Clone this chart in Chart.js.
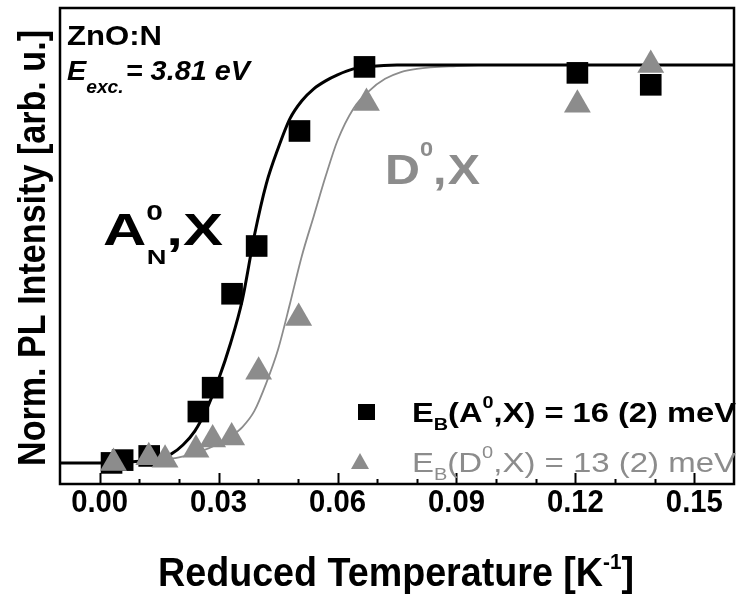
<!DOCTYPE html>
<html><head><meta charset="utf-8">
<script src="https://cdn.jsdelivr.net/npm/chart.js@4/dist/chart.umd.min.js"></script>
<style>html,body{margin:0;padding:0;background:#fff;overflow:hidden}</style>
</head><body>
<canvas id="c" width="737" height="596"></canvas>
<script>
// ---------- data ----------
const xMajorTicks = [0.00, 0.03, 0.06, 0.09, 0.12, 0.15];
const xTickLabels = ['0.00', '0.03', '0.06', '0.09', '0.12', '0.15'];
const xMinorTicks = [0.01, 0.02, 0.04, 0.05, 0.07, 0.08, 0.10, 0.11, 0.13, 0.14];

// A0,X (black squares)
const squaresX = [0.003, 0.0058, 0.0125, 0.0249, 0.0285, 0.0334, 0.0396, 0.0504, 0.0668, 0.1205, 0.139];
const squaresY = [0.0, 0.007, 0.0175, 0.129, 0.189, 0.425, 0.545, 0.834, 0.995, 0.98, 0.95];

// D0,X (grey triangles)
const trianglesX = [0.0035, 0.0124, 0.0165, 0.0243, 0.0285, 0.0333, 0.0401, 0.0502, 0.0673, 0.1205, 0.139];
const trianglesY = [0.0, 0.014, 0.008, 0.033, 0.059, 0.064, 0.229, 0.364, 0.904, 0.90, 1.0];

// fitted curves
const fitAX = [-0.01, 0.0, 0.005, 0.01, 0.015, 0.018, 0.021, 0.024, 0.027, 0.03, 0.033, 0.036, 0.039, 0.042, 0.045, 0.048, 0.051, 0.054, 0.057, 0.06, 0.064, 0.068, 0.075, 0.09, 0.12, 0.16];
const fitAY = [0.0, 0.0, 0.001, 0.004, 0.012, 0.022, 0.045, 0.08, 0.135, 0.21, 0.3, 0.41, 0.57, 0.70, 0.79, 0.865, 0.91, 0.94, 0.96, 0.975, 0.99, 0.996, 1.0, 1.0, 1.0, 1.0];
const fitDX = [-0.01, 0.0, 0.01, 0.015, 0.02, 0.025, 0.03, 0.033, 0.036, 0.039, 0.042, 0.045, 0.048, 0.051, 0.054, 0.057, 0.06, 0.064, 0.068, 0.072, 0.076, 0.08, 0.09, 0.1, 0.16];
const fitDY = [0.0, 0.0, 0.003, 0.007, 0.014, 0.027, 0.048, 0.066, 0.09, 0.13, 0.2, 0.285, 0.4, 0.52, 0.62, 0.72, 0.81, 0.89, 0.935, 0.965, 0.982, 0.99, 0.997, 1.0, 1.0];

const zip = (xs, ys) => xs.map((x, i) => ({x, y: ys[i]}));

const GREY = '#8c8c8c';
const FONT = '"Liberation Sans", Arial, Helvetica, sans-serif';

// rich text: segs = [{t, f (size factor), dy (em offset)}]
function rich(ctx, segs, x, y, o) {
  const base = o.size, w = o.weight || 'bold', st = o.style || 'normal';
  const fnt = s => `${st} ${w} ${Math.round(base * (s.f || 1))}px ${FONT}`;
  let nat = 0;
  for (const s of segs) { ctx.font = fnt(s); nat += ctx.measureText(s.t).width + (s.gap || 0); }
  const sx = o.width ? o.width / nat : 1;
  ctx.save();
  ctx.fillStyle = o.color || '#000';
  ctx.textAlign = 'left';
  ctx.textBaseline = 'alphabetic';
  ctx.translate(x, y);
  if (o.rot) ctx.rotate(o.rot);
  if (o.align === 'center') ctx.translate(-nat * sx / 2, 0);
  ctx.scale(sx, 1);
  let cx = 0;
  for (const s of segs) {
    ctx.font = fnt(s);
    ctx.fillText(s.t, cx, (s.dy || 0) * base);
    cx += ctx.measureText(s.t).width + (s.gap || 0);
  }
  ctx.restore();
}

const decor = {
  id: 'decor',
  afterDraw(chart) {
    const {ctx, chartArea: a, scales: {x}} = chart;
    ctx.save();
    // frame
    ctx.strokeStyle = '#000';
    ctx.lineWidth = 2.5;
    ctx.strokeRect(a.left, a.top, a.right - a.left, a.bottom - a.top);
    // ticks (inside)
    ctx.lineWidth = 2;
    ctx.beginPath();
    xMajorTicks.forEach(v => { const p = Math.round(x.getPixelForValue(v)) + 0.5; ctx.moveTo(p, a.bottom); ctx.lineTo(p, a.bottom - 11); });
    xMinorTicks.forEach(v => { const p = Math.round(x.getPixelForValue(v)) + 0.5; ctx.moveTo(p, a.bottom); ctx.lineTo(p, a.bottom - 5); });
    ctx.stroke();
    // tick labels
    xMajorTicks.forEach((v, i) => {
      rich(ctx, [{t: xTickLabels[i]}], x.getPixelForValue(v), a.bottom + 28, {size: 31, width: 57, align: 'center'});
    });
    // axis titles
    rich(ctx, [{t: 'Reduced Temperature [K'}, {t: '-1', f: 0.55, dy: -0.42}, {t: ']'}], 396, 586, {size: 40, width: 476, align: 'center'});
    rich(ctx, [{t: 'Norm. PL Intensity [arb. u.]'}], 45, 248, {size: 38, width: 436, align: 'center', rot: -Math.PI / 2});
    // annotations
    rich(ctx, [{t: 'ZnO:N'}], 67, 45, {size: 28, width: 95});
    rich(ctx, [{t: 'E'}, {t: 'exc.', f: 0.66, dy: 0.48, gap: 2}, {t: '= 3.81 eV'}], 67, 80, {size: 27, width: 183, style: 'italic'});
    rich(ctx, [{t: 'A'}, {t: '0', f: 0.5, dy: -0.56, gap: -12}, {t: 'N', f: 0.45, dy: 0.43}, {t: ','}, {t: 'X'}], 103, 245, {size: 44, width: 120});
    rich(ctx, [{t: 'D'}, {t: '0', f: 0.48, dy: -0.66}, {t: ',', gap: 1}, {t: 'X'}], 385, 184, {size: 43, width: 95, color: GREY});
    // legend
    ctx.fillStyle = '#000';
    ctx.fillRect(358, 404, 17, 16);
    ctx.fillStyle = GREY;
    ctx.beginPath(); ctx.moveTo(360, 453); ctx.lineTo(369, 469); ctx.lineTo(351, 469); ctx.closePath(); ctx.fill();
    rich(ctx, [{t: 'E'}, {t: 'B', f: 0.62, dy: 0.3}, {t: '(A'}, {t: '0', f: 0.62, dy: -0.5}, {t: ',X) = 16 (2) meV'}], 412, 422, {size: 28, width: 324});
    rich(ctx, [{t: 'E'}, {t: 'B', f: 0.62, dy: 0.3}, {t: '(D'}, {t: '0', f: 0.62, dy: -0.5}, {t: ',X) = 13 (2) meV'}], 412, 472, {size: 28, width: 324, weight: 'normal', color: GREY});
    ctx.restore();
  }
};

new Chart(document.getElementById('c'), {
  type: 'scatter',
  data: {
    datasets: [
      {label: 'D fit', data: zip(fitDX, fitDY), showLine: true, borderColor: GREY, borderWidth: 1.8, pointRadius: 0, cubicInterpolationMode: 'monotone', order: 3},
      {label: 'A fit', data: zip(fitAX, fitAY), showLine: true, borderColor: '#000', borderWidth: 3, pointRadius: 0, cubicInterpolationMode: 'monotone', order: 2},
      {label: 'A0,X', data: zip(squaresX, squaresY), pointStyle: 'rect', pointRadius: 15.3, backgroundColor: '#000', borderColor: '#000', borderWidth: 0, order: 1},
      {label: 'D0,X', data: zip(trianglesX, trianglesY), pointStyle: 'triangle', pointRadius: 15.5, backgroundColor: GREY, borderColor: GREY, borderWidth: 0, order: 0}
    ]
  },
  options: {
    responsive: false,
    animation: false,
    devicePixelRatio: 1,
    events: [],
    layout: {autoPadding: false, padding: {top: 8, right: 3, left: 0, bottom: 0}},
    plugins: {legend: {display: false}, tooltip: {enabled: false}},
    scales: {
      x: {type: 'linear', min: -0.01, max: 0.16, grid: {display: false, drawTicks: false}, border: {display: false},
          ticks: {display: false, stepSize: 0.01}, afterFit: s => { s.height = 112; }},
      y: {type: 'linear', min: -0.053, max: 1.143, grid: {display: false, drawTicks: false}, border: {display: false},
          ticks: {display: false}, afterFit: s => { s.width = 60; }}
    }
  },
  plugins: [decor]
});
</script>
</body></html>
